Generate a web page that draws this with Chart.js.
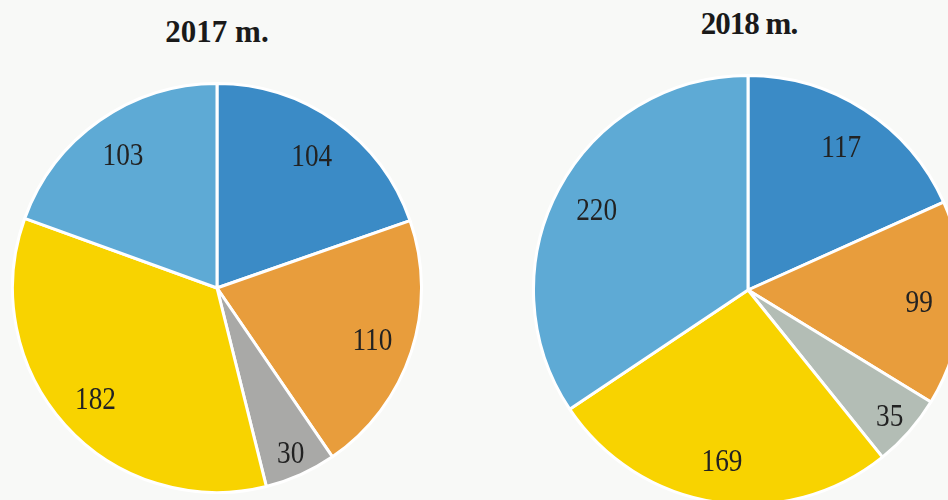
<!DOCTYPE html>
<html lang="lt">
<head>
    <meta charset="UTF-8">
    <title>2017 m. / 2018 m.</title>
    <script src="https://cdn.jsdelivr.net/npm/chart.js"></script>
    <style>
        html, body { margin: 0; padding: 0; width: 948px; height: 500px; overflow: hidden; background: #f8f9f7; }
        .title { position: absolute; font-family: "Liberation Serif", serif; font-weight: bold; font-size: 31px; line-height: 31px; color: #1a1a1a; transform: translateX(-50%); white-space: nowrap; }
        .pie { position: absolute; }
    </style>
</head>
<body>
    <div class="title" style="left:217px; top:16px;">2017 m.</div>
    <div class="title" style="left:749px; top:8px; letter-spacing:-1px;">2018 m.</div>

    <div class="pie" style="left:11px; top:82px; width:412px; height:412px;"><canvas id="pie2017"></canvas></div>
    <div class="pie" style="left:532px; top:74px; width:432px; height:432px;"><canvas id="pie2018"></canvas></div>

    <script>
        const categories = ["1", "2", "3", "4", "5"];
        const values2017 = [104, 110, 30, 182, 103];
        const values2018 = [117, 99, 35, 169, 220];
        const colors2017 = ["#3b8bc6", "#e89d3c", "#a9a9a7", "#f8d300", "#5eaad5"];
        const colors2018 = ["#3b8bc6", "#e89d3c", "#b3bdb5", "#f8d300", "#5eaad5"];

        // numbers inside the slices, drawn a bit narrower like the original
        const sliceLabels = {
            id: "sliceLabels",
            afterDatasetsDraw(chart) {
                const ctx = chart.ctx;
                const meta = chart.getDatasetMeta(0);
                const data = chart.data.datasets[0].data;
                const total = data.reduce((a, b) => a + b, 0);
                meta.data.forEach((arc, i) => {
                    const p = arc.getProps(["x", "y", "startAngle", "endAngle", "outerRadius"], true);
                    const mid = (p.startAngle + p.endAngle) / 2;
                    const f = data[i] / total < 0.08 ? 0.88 : 0.8;
                    const x = p.x + Math.cos(mid) * p.outerRadius * f;
                    const y = p.y + Math.sin(mid) * p.outerRadius * f + 3;
                    ctx.save();
                    ctx.translate(x, y);
                    ctx.scale(0.88, 1);
                    ctx.font = "31px 'Liberation Serif', serif";
                    ctx.fillStyle = "#222";
                    ctx.textAlign = "center";
                    ctx.textBaseline = "middle";
                    ctx.fillText(String(data[i]), 0, 0);
                    ctx.restore();
                });
            }
        };

        function makePie(id, values, colors) {
            return new Chart(document.getElementById(id), {
                type: "pie",
                data: {
                    labels: categories,
                    datasets: [{ data: values, backgroundColor: colors, borderColor: "#ffffff", borderWidth: 3 }]
                },
                options: {
                    responsive: true,
                    maintainAspectRatio: false,
                    animation: false,
                    plugins: { legend: { display: false }, tooltip: { enabled: false } }
                },
                plugins: [sliceLabels]
            });
        }

        makePie("pie2017", values2017, colors2017);
        makePie("pie2018", values2018, colors2018);
    </script>
</body>
</html>
